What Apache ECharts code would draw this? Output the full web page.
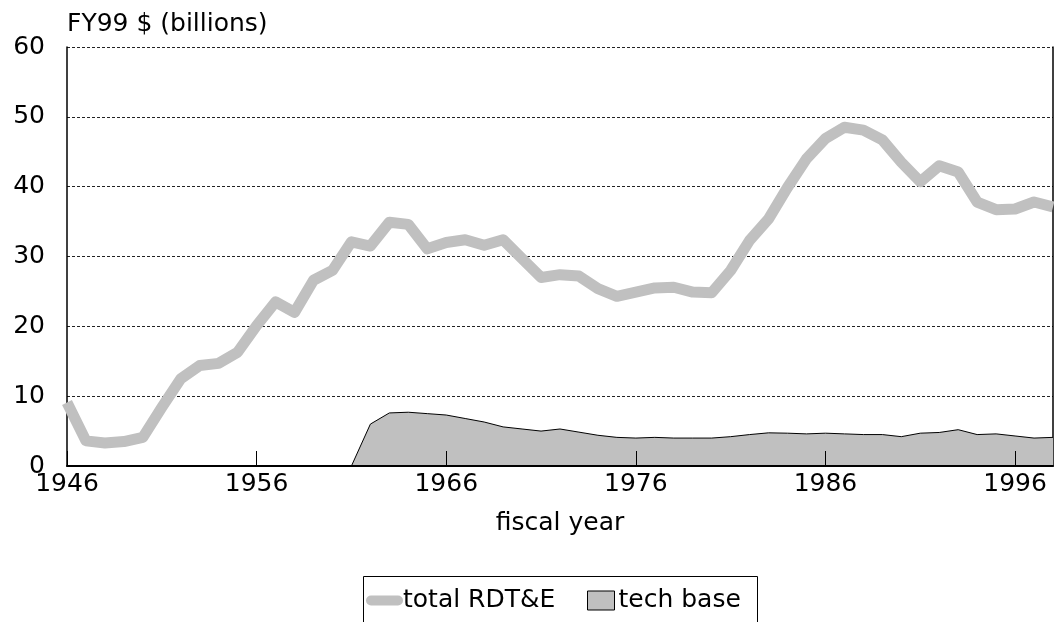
<!DOCTYPE html>
<html>
<head>
<meta charset="utf-8">
<script src="https://cdn.jsdelivr.net/npm/echarts@6/dist/echarts.min.js"></script>
<style>
  html, body { margin: 0; padding: 0; background: #fff; }
  #chart { width: 1054px; height: 622px; }
</style>
</head>
<body>
<div id="chart"></div>
<script>
var years = [1946, 1947, 1948, 1949, 1950, 1951, 1952, 1953, 1954, 1955,
    1956, 1957, 1958, 1959, 1960, 1961, 1962, 1963, 1964, 1965,
    1966, 1967, 1968, 1969, 1970, 1971, 1972, 1973, 1974, 1975,
    1976, 1977, 1978, 1979, 1980, 1981, 1982, 1983, 1984, 1985,
    1986, 1987, 1988, 1989, 1990, 1991, 1992, 1993, 1994, 1995,
    1996, 1997, 1998];
// total RDT&E, FY99 $ billions
var totalRdte = [9.1, 3.6, 3.3, 3.5, 4.1, 8.4, 12.5, 14.4, 14.7, 16.3,
    20.1, 23.5, 22.0, 26.6, 28.0, 32.1, 31.5, 34.9, 34.6, 31.1,
    32.0, 32.4, 31.6, 32.4, 29.7, 27.0, 27.4, 27.2, 25.4, 24.3,
    24.9, 25.5, 25.6, 24.9, 24.8, 28.0, 32.3, 35.4, 39.9, 44.0,
    46.9, 48.5, 48.1, 46.7, 43.5, 40.7, 43.0, 42.1, 37.8, 36.7,
    36.8, 37.8, 37.1];
// tech base
var techBase = [0, 0, 0, 0, 0, 0, 0, 0, 0, 0,
    0, 0, 0, 0, 0, 0, 6.0, 7.6, 7.7, 7.5,
    7.3, 6.8, 6.3, 5.6, 5.3, 5.0, 5.3, 4.85, 4.4, 4.1,
    4.0, 4.1, 4.0, 4.0, 4.0, 4.2, 4.5, 4.75, 4.7, 4.6,
    4.7, 4.6, 4.5, 4.5, 4.2, 4.7, 4.8, 5.2, 4.5, 4.6,
    4.3, 4.0, 4.1];
var yTicks = [0, 10, 20, 30, 40, 50, 60];

var FONT = 'DejaVu Sans';

function pairs(vals) {
    var out = [];
    for (var i = 0; i < years.length; i++) {
        out.push([years[i], vals[i]]);
    }
    return out;
}

var chart = echarts.init(document.getElementById('chart'), null, { renderer: 'canvas' });

var option = {
    animation: false,
    backgroundColor: '#fff',
    textStyle: { fontFamily: FONT, color: '#000' },
    grid: { left: 67, right: 1, top: 47, bottom: 156 },
    legend: [{
        left: 366,
        top: 588,
        padding: 0,
        itemWidth: 37,
        itemHeight: 10,
        itemGap: 0,
        selectedMode: false,
        data: [{
            name: 'total RDT&E',
            icon: 'path://M5,0 L32,0 A5,5 0 0 1 32,10 L5,10 A5,5 0 0 1 5,0 Z',
            itemStyle: { color: '#c0c0c0', borderWidth: 0 }
        }],
        textStyle: { fontFamily: FONT, fontSize: 25, color: '#000', padding: [0, 0, 0, -5] }
    }, {
        left: 587,
        top: 588,
        padding: 0,
        itemWidth: 27,
        itemHeight: 19,
        selectedMode: false,
        data: [{
            name: 'tech base',
            icon: 'rect',
            itemStyle: { color: '#c0c0c0', borderColor: '#000', borderWidth: 1 }
        }],
        textStyle: { fontFamily: FONT, fontSize: 25, color: '#000', padding: [0, 0, 0, -1] }
    }],
    graphic: [{
        type: 'rect',
        shape: { x: 363.5, y: 576.5, width: 394, height: 50 },
        style: { fill: 'none', stroke: '#000', lineWidth: 1 },
        silent: true
    }],
    xAxis: {
        type: 'value',
        min: 1946,
        max: 1998,
        interval: 10,
        z: 5,
        name: 'fiscal year',
        nameLocation: 'middle',
        nameGap: 45,
        nameTextStyle: { fontFamily: FONT, fontSize: 25, color: '#000' },
        axisLine: { show: true, onZero: false, lineStyle: { color: '#000', width: 2 } },
        axisTick: { show: true, inside: true, length: 15, lineStyle: { color: '#000', width: 1 } },
        axisLabel: {
            fontFamily: FONT, fontSize: 25, color: '#000', margin: 6,
            showMaxLabel: false,
            formatter: function(v) { return String(v); }
        },
        splitLine: { show: false }
    },
    yAxis: [{
        type: 'value',
        min: 0,
        max: 60,
        interval: 10,
        name: 'FY99 $ (billions)',
        nameLocation: 'end',
        nameGap: 23,
        nameTextStyle: { fontFamily: FONT, fontSize: 25, color: '#000', align: 'left', verticalAlign: 'middle' },
        axisLine: { show: true, lineStyle: { color: '#000', width: 1.5 } },
        axisTick: { show: false },
        axisLabel: {
            fontFamily: FONT, fontSize: 25, color: '#000', margin: 22,
            formatter: function(v) { return yTicks.indexOf(v) >= 0 ? String(v) : ''; }
        },
        splitLine: { show: true, lineStyle: { color: '#222', width: 1, type: [3, 2] } }
    }, {
        type: 'value',
        position: 'right',
        min: 0,
        max: 60,
        interval: 10,
        axisLine: { show: true, lineStyle: { color: '#000', width: 1.5 } },
        axisTick: { show: false },
        axisLabel: { show: false },
        splitLine: { show: false }
    }],
    series: [{
        name: 'tech base',
        type: 'line',
        data: pairs(techBase),
        symbol: 'none',
        lineStyle: { color: '#000', width: 1 },
        itemStyle: { color: '#c0c0c0' },
        areaStyle: { color: '#c0c0c0', opacity: 1 },
        z: 2
    }, {
        name: 'total RDT&E',
        type: 'line',
        data: pairs(totalRdte),
        symbol: 'none',
        lineStyle: { color: '#c0c0c0', width: 11, join: 'round', cap: 'butt' },
        itemStyle: { color: '#c0c0c0' },
        z: 3
    }]
};

chart.setOption(option);
</script>
</body>
</html>
